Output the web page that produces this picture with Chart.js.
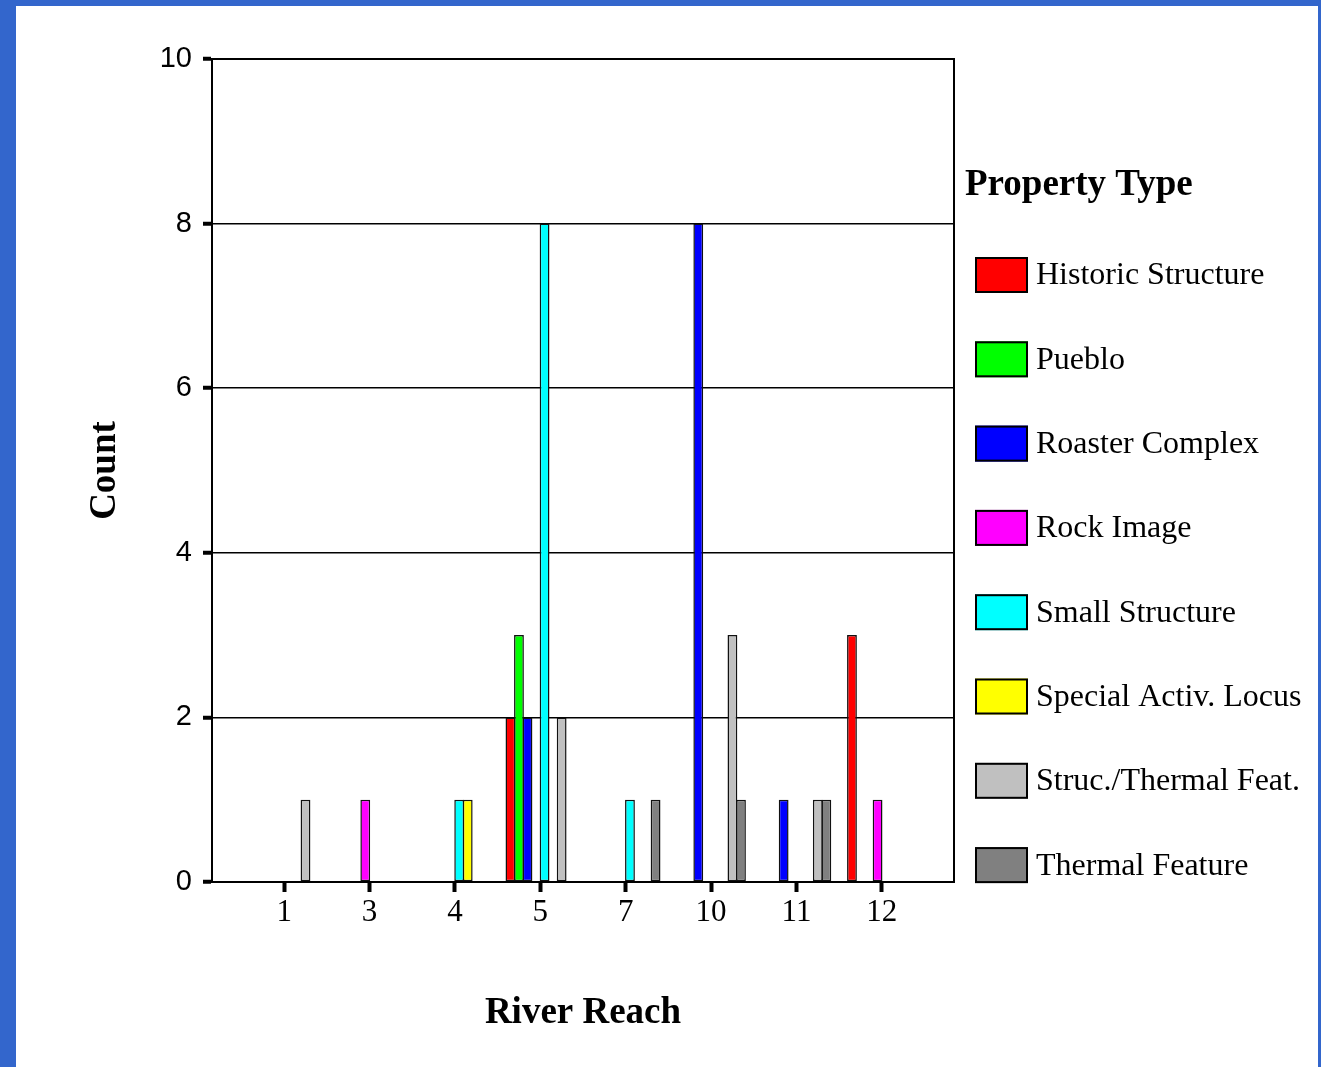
<!DOCTYPE html>
<html>
<head>
<meta charset="utf-8">
<script src="https://cdn.jsdelivr.net/npm/chart.js@4.4.1/dist/chart.umd.min.js"></script>
<style>
	html, body { margin: 0; padding: 0; }
	body { background: #3366cc; width: 1321px; height: 1067px; overflow: hidden; position: relative; }
	#panel { position: absolute; left: 16px; top: 6px; width: 1302px; height: 1061px; background: #fff; }
	#wrap { position: absolute; left: 0; top: 0; width: 1321px; height: 1067px; }
</style>
</head>
<body>
<div id="panel"></div>
<div id="wrap"><canvas id="c" width="1321" height="1067"></canvas></div>
<script>
// river reaches on the x axis
const reaches = ['1', '3', '4', '5', '7', '10', '11', '12'];
const propertyTypes = ['Historic Structure', 'Pueblo', 'Roaster Complex', 'Rock Image',
	'Small Structure', 'Special Activ. Locus', 'Struc./Thermal Feat.', 'Thermal Feature'];

// counts per reach, one array per property type
const historicStructure = [0, 0, 0, 2, 0, 0, 0, 3];
const pueblo            = [0, 0, 0, 3, 0, 0, 0, 0];
const roasterComplex    = [0, 0, 0, 2, 0, 8, 1, 0];
const rockImage         = [0, 1, 0, 0, 0, 0, 0, 1];
const smallStructure    = [0, 0, 1, 8, 1, 0, 0, 0];
const specialActivLocus = [0, 0, 1, 0, 0, 0, 0, 0];
const strucThermalFeat  = [1, 0, 0, 2, 0, 3, 1, 0];
const thermalFeature    = [0, 0, 0, 0, 1, 1, 1, 0];

const countTicks = [0, 2, 4, 6, 8, 10];

const seriesValues = [historicStructure, pueblo, roasterComplex, rockImage,
	smallStructure, specialActivLocus, strucThermalFeat, thermalFeature];
const colors = ['#ff0000', '#00ff00', '#0000ff', '#ff00ff', '#00ffff', '#ffff00', '#c0c0c0', '#808080'];

const datasets = propertyTypes.map((name, k) => ({
	label: name,
	data: seriesValues[k].map((v, i) => ({ x: i, y: v })),
	backgroundColor: colors[k],
	borderColor: '#111',
	borderWidth: 1.5,
	borderSkipped: false,
	categoryPercentage: 0.8,
	barPercentage: 1.15
}));

// black frame round the plot area
const plotFrame = {
	id: 'plotFrame',
	afterDatasetsDraw (chart)
	{
		const a = chart.chartArea;
		const ctx = chart.ctx;
		ctx.save();
		ctx.strokeStyle = '#000';
		ctx.lineWidth = 2;
		ctx.strokeRect(a.left, a.top, a.right - a.left, a.bottom - a.top);
		ctx.restore();
	}
};

// legend drawn by hand so it sits like the original
const sideLegend = {
	id: 'sideLegend',
	afterDraw (chart)
	{
		const ctx = chart.ctx;
		ctx.save();
		ctx.fillStyle = '#000';
		ctx.font = 'bold 37px "Liberation Serif"';
		ctx.textBaseline = 'alphabetic';
		ctx.fillText('Property Type', 965, 195);
		ctx.font = '32px "Liberation Serif"';
		ctx.textBaseline = 'middle';
		chart.data.datasets.forEach((ds, i) => {
			const y = 257 + i * 84.3;
			ctx.fillStyle = ds.backgroundColor;
			ctx.fillRect(975, y, 53, 36);
			ctx.lineWidth = 2;
			ctx.strokeStyle = '#000';
			ctx.strokeRect(976, y + 1, 51, 34);
			ctx.fillStyle = '#000';
			ctx.fillText(ds.label, 1036, y + 19);
		});
		ctx.restore();
	}
};

const ctx = document.getElementById('c').getContext('2d');
new Chart(ctx, {
	type: 'bar',
	data: { datasets },
	options: {
		responsive: false,
		devicePixelRatio: 1,
		animation: false,
		layout: { padding: { left: 0, top: 59, right: 367, bottom: 17 } },
		plugins: {
			legend: { display: false },
			tooltip: { enabled: false }
		},
		scales: {
			x: {
				type: 'linear',
				min: -0.845,
				max: 7.845,
				offset: false,
				grid: {
					offset: false,
					drawOnChartArea: false,
					tickLength: 10,
					tickWidth: 4,
					tickColor: '#000',
					color: '#000'
				},
				border: { display: true, color: '#000', width: 2 },
				afterBuildTicks: (s) => { s.ticks = reaches.map((r, i) => ({ value: i })); },
				afterFit: (s) => { s.height = 168; },
				ticks: {
					color: '#000',
					font: { family: '"Liberation Serif"', size: 31 },
					padding: 2,
					autoSkip: false,
					maxRotation: 0,
					callback: (v) => reaches[v]
				},
				title: {
					display: true,
					text: 'River Reach',
					color: '#000',
					font: { family: '"Liberation Serif"', size: 37, weight: 'bold' },
					padding: { top: 0, bottom: 14 }
				}
			},
			y: {
				min: 0,
				max: 10,
				grid: {
					color: '#000',
					lineWidth: 1.5,
					tickLength: 9,
					tickWidth: 4,
					tickColor: '#000'
				},
				border: { display: true, color: '#000', width: 2 },
				afterBuildTicks: (s) => { s.ticks = countTicks.map(v => ({ value: v })); },
				afterFit: (s) => { s.width = 212; },
				ticks: {
					color: '#000',
					font: { family: '"Liberation Sans"', size: 29 },
					padding: 11
				},
				title: {
					display: true,
					text: 'Count',
					color: '#000',
					font: { family: '"Liberation Serif"', size: 37, weight: 'bold' },
					padding: { top: 83, bottom: 0 }
				}
			}
		}
	},
	plugins: [plotFrame, sideLegend]
});
</script>
</body>
</html>
